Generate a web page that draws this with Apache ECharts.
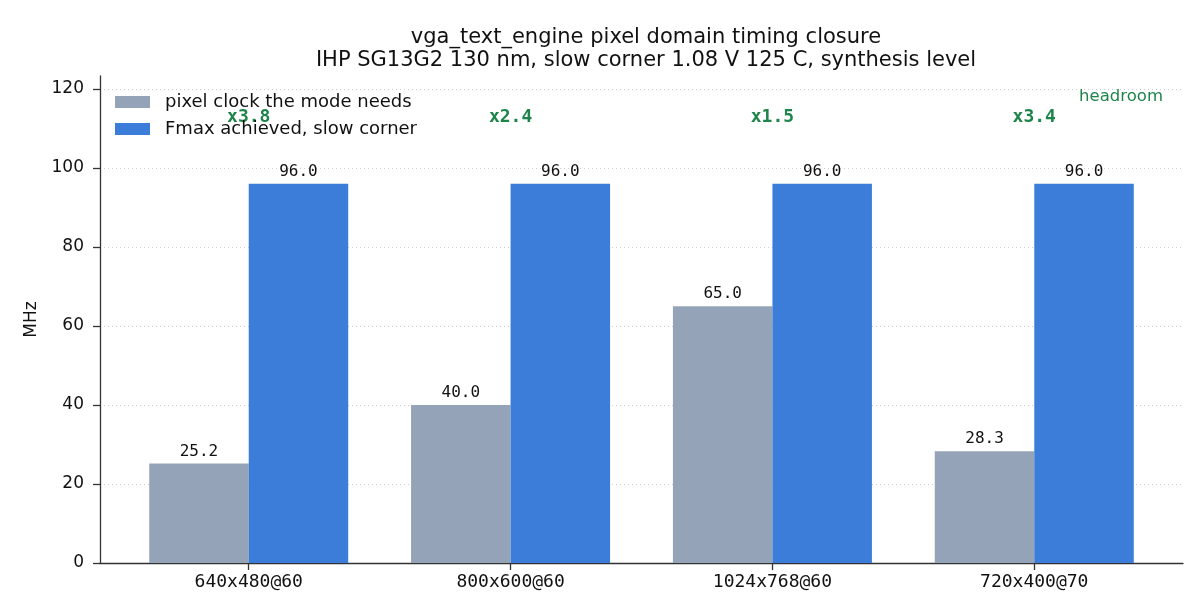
<!DOCTYPE html>
<html>
<head>
<meta charset="utf-8">
<script src="https://cdn.jsdelivr.net/npm/echarts@6.0.0/dist/echarts.min.js"></script>
<style>
  html, body { margin: 0; padding: 0; background: #fff; }
  #chart { width: 1204px; height: 616px; }
</style>
</head>
<body>
<div id="chart"></div>
<script>
const modes = ['640x480@60', '800x600@60', '1024x768@60', '720x400@70'];
const pixelClock = [25.2, 40.0, 65.0, 28.3];
const fmaxSlow = [96.0, 96.0, 96.0, 96.0];
const yTicks = [0, 20, 40, 60, 80, 100, 120];

const GREEN = '#1e8449';
const GRAY = '#94a3b8';
const BLUE = '#3b7dd8';
const INK = '#111';

// matplotlib style layout: bar width 0.38, x limits with 5% margin
const barW = 0.38;
const xMin = -0.568, xMax = 3.568;
const gridLeft = 100, gridRight = 21;
const plotW = 1204 - gridLeft - gridRight;
const barPx = barW * plotW / (xMax - xMin);
const headroomY = 112.9;

var chart = echarts.init(document.getElementById('chart'));

var option = {
  animation: false,
  title: {
    text: 'vga_text_engine pixel domain timing closure\nIHP SG13G2 130 nm, slow corner 1.08 V 125 C, synthesis level',
    left: 641, top: 21, textAlign: 'center',
    textStyle: { fontFamily: 'DejaVu Sans', fontSize: 21, fontWeight: 'normal', color: INK, lineHeight: 23 }
  },
  legend: {
    orient: 'vertical', left: 115, top: 92, padding: 0,
    icon: 'rect', itemWidth: 35, itemHeight: 12, itemGap: 7,
    textStyle: { fontFamily: 'DejaVu Sans', fontSize: 18, color: INK, lineHeight: 20, padding: [0, 0, 0, 10] },
    data: ['pixel clock the mode needs', 'Fmax achieved, slow corner']
  },
  graphic: [{
    type: 'text', right: 41, top: 88,
    style: { text: 'headroom', fontFamily: 'DejaVu Sans', fontSize: 16.5, fill: GREEN }
  }],
  grid: { left: gridLeft, right: gridRight, top: 76, bottom: 53 },
  xAxis: {
    type: 'value', min: xMin, max: xMax,
    axisLine: { show: true, lineStyle: { color: '#333', width: 1.3 } },
    axisTick: { show: true, length: 7, lineStyle: { color: '#333', width: 1.3 }, customValues: [0, 1, 2, 3] },
    axisLabel: {
      customValues: [0, 1, 2, 3], margin: 10,
      fontFamily: 'DejaVu Sans Mono', fontSize: 18, color: INK,
      formatter: v => modes[Math.round(v)]
    },
    splitLine: { show: false }
  },
  yAxis: {
    type: 'value', min: 0, max: 123.3,
    name: 'MHz', nameLocation: 'middle', nameGap: 60, nameRotate: 90,
    nameTextStyle: { fontFamily: 'DejaVu Sans', fontSize: 17, color: INK },
    axisLine: { show: true, onZero: false, lineStyle: { color: '#333', width: 1.3 } },
    axisTick: { show: true, length: 7, lineStyle: { color: '#333', width: 1.3 }, customValues: yTicks },
    axisLabel: { customValues: yTicks, margin: 16, fontFamily: 'DejaVu Sans', fontSize: 17, color: INK },
    splitLine: { show: true, lineStyle: { color: '#ccc', type: [1, 3], width: 1 } }
  },
  series: [
    {
      name: 'pixel clock the mode needs', type: 'bar', barWidth: barPx, barGap: '-100%',
      itemStyle: { color: GRAY },
      label: {
        show: true, position: 'top', distance: 4,
        fontFamily: 'DejaVu Sans Mono', fontSize: 16, color: INK,
        formatter: p => p.value[1].toFixed(1)
      },
      data: pixelClock.map((v, i) => [i - barW / 2, v])
    },
    {
      name: 'Fmax achieved, slow corner', type: 'bar', barWidth: barPx, barGap: '-100%',
      itemStyle: { color: BLUE },
      label: {
        show: true, position: 'top', distance: 4,
        fontFamily: 'DejaVu Sans Mono', fontSize: 16, color: INK,
        formatter: p => p.value[1].toFixed(1)
      },
      data: fmaxSlow.map((v, i) => [i + barW / 2, v])
    },
    {
      name: 'headroom', type: 'scatter', symbolSize: 0, silent: true,
      itemStyle: { color: 'transparent', opacity: 1 },
      label: {
        show: true, position: 'inside', textBorderWidth: 0, opacity: 1,
        fontFamily: 'DejaVu Sans Mono', fontSize: 18, fontWeight: 'bold', color: GREEN,
        formatter: p => 'x' + (fmaxSlow[p.dataIndex] / pixelClock[p.dataIndex]).toFixed(1)
      },
      data: modes.map((m, i) => [i, headroomY])
    }
  ]
};

chart.setOption(option);
</script>
</body>
</html>
